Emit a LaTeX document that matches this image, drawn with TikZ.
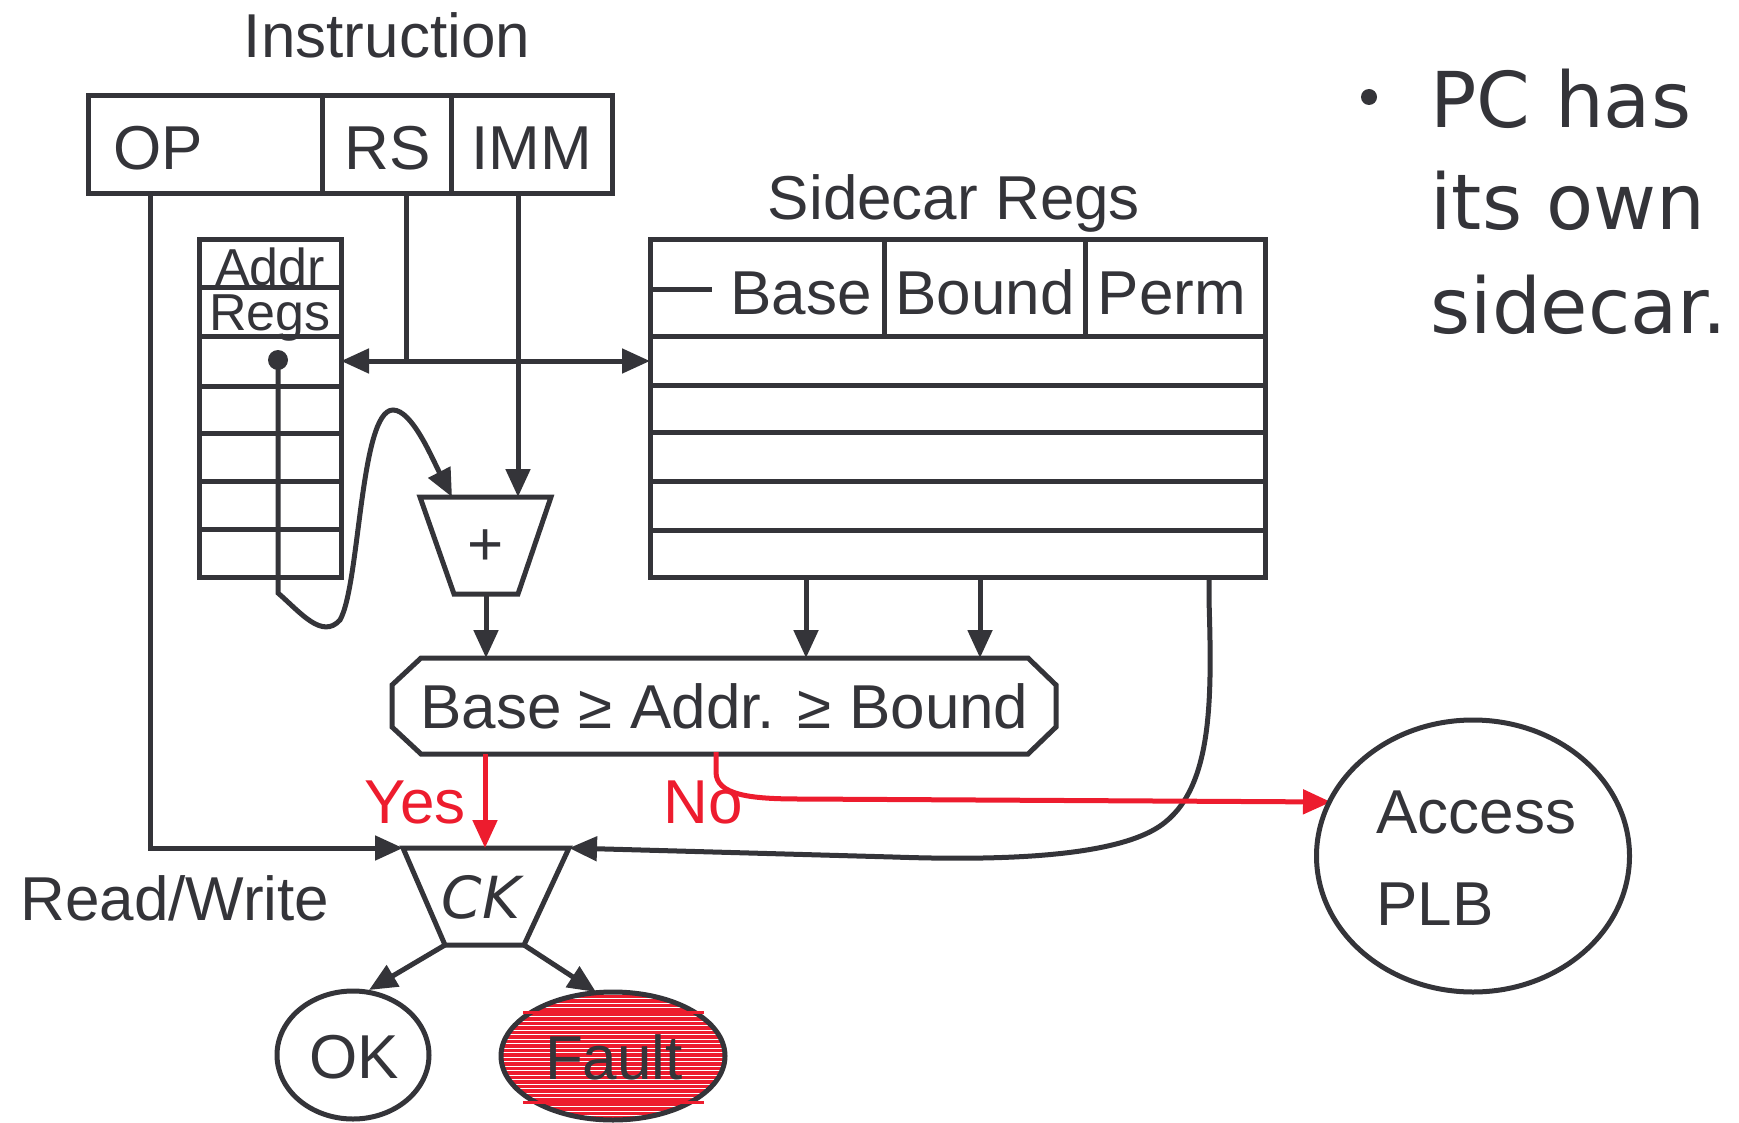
\documentclass[tikz,border=0pt]{standalone}
\usepackage{fontspec}
\setmainfont{Liberation Sans}
\newfontfamily\comicfont{DejaVu Sans}
\usetikzlibrary{arrows.meta,shapes.geometric}
\definecolor{ink}{RGB}{52,52,57}
\definecolor{redc}{RGB}{237,28,46}
\tikzset{
  lbl/.style={font=\fontsize{62}{70}\selectfont, inner sep=0pt, text=ink},
  small/.style={font=\fontsize{52}{60}\selectfont, inner sep=0pt, text=ink},
  comic/.style={font=\comicfont\fontsize{77}{90}\selectfont, inner sep=0pt, text=ink},
  arr/.style={-{Triangle[length=28pt,width=24pt]}},
  bubble/.style={draw=ink, ellipse, inner sep=0pt, line width=5pt},
}
\begin{document}
\begin{tikzpicture}[x=1pt,y=-1pt,line width=5pt,color=ink,line join=miter]
\useasboundingbox (0,0) rectangle (1739,1123);

% ---------------- Instruction
\node[lbl,anchor=base] (instrlbl) at (387,58) {Instruction};
\draw (88,96) rectangle (612,194);
\draw (322,96) -- (322,194);
\draw (451,96) -- (451,194);
\node[lbl,anchor=base west] (op) at (111,170) {OP};
\node[lbl,anchor=base] (rs) at (388,170) {RS};
\node[lbl,anchor=base] (imm) at (532,170) {IMM};
\coordinate (opout) at (150,194);
\coordinate (rsout) at (406,194);
\coordinate (immout) at (518,194);

% ---------------- Addr Regs
\draw (199,240) rectangle (341,577);
\foreach \yy in {287,336,386,433,481,529} \draw (199,\yy) -- (341,\yy);
\node[small,anchor=base] (addr) at (270,285) {Addr};
\node[small,anchor=base] (regs) at (270,330) {Regs};
\coordinate (addrin) at (341,361);

% ---------------- Sidecar Regs
\node[lbl,anchor=base] (sclbl) at (954,220) {Sidecar Regs};
\draw (650,240) rectangle (1265,577);
\draw (650,336) -- (1268,336);
\draw (650,385) -- (1268,385);
\foreach \yy in {432,481,530} \draw (650,\yy) -- (1265,\yy);
\draw (884,240) -- (884,336);
\draw (1085,240) -- (1085,336);
\draw (650,289) -- (712,289);
\node[lbl,anchor=base] (base) at (801,314) {Base};
\node[lbl,anchor=base] (bound) at (985,314) {Bound};
\node[lbl,anchor=base] (perm) at (1172,314) {Perm};
\coordinate (scin) at (650,361);
\coordinate (scout1) at (806,577);
\coordinate (scout2) at (980,577);
\coordinate (scout3) at (1209,577);

% ---------------- RS fan-out
\coordinate (rsj) at (406,361);
\draw (rsout) -- (rsj);
\draw[arr] (rsj) -- (addrin);
\draw[arr] (rsj) -- (scin);

% ---------------- Adder
\coordinate (at1) at (420,497);
\coordinate (at2) at (551,497);
\coordinate (ab2) at (518,594);
\coordinate (ab1) at (454,594);
\draw (at1) -- (at2) -- (ab2) -- (ab1) -- cycle;
\node[lbl] (plus) at (486,548) {+};
\coordinate (addin1) at (452,497);
\coordinate (addin2) at (518,497);
\coordinate (addout) at (486,594);
\draw[arr] (immout) -- (addin2);

% register pointer into adder
\coordinate (dot) at (278,360);
\fill (dot) circle (10pt);
\coordinate (dotlow) at (278,593);
\draw[arr] (dot) -- (dotlow)
  .. controls (300,612) and (322,640) .. (340,620)
  .. controls (360,585) and (360,410) .. (393,410)
  .. controls (412,410) and (432,458) .. (addin1);

% ---------------- Compare box
\draw (421,658) -- (1028,658) -- (1056,685) -- (1056,727) -- (1028,754)
  -- (421,754) -- (392,727) -- (392,685) -- cycle;
\node[lbl,anchor=base] (cmp) at (724.5,728) {Base ≥ Addr. ≥ Bound};
\coordinate (cmpin1) at (486,658);
\coordinate (cmpin2) at (806,658);
\coordinate (cmpin3) at (980,658);
\coordinate (cmpyes) at (485,754);
\coordinate (cmpno) at (716,752);
\draw[arr] (addout) -- (cmpin1);
\draw[arr] (scout1) -- (cmpin2);
\draw[arr] (scout2) -- (cmpin3);

% ---------------- CK
\coordinate (ck1) at (403,848);
\coordinate (ck2) at (569,848);
\coordinate (ck3) at (524,945);
\coordinate (ck4) at (445,945);
\draw (ck1) -- (ck2) -- (ck3) -- (ck4) -- cycle;
\node[font=\comicfont\itshape\fontsize{58}{64}\selectfont,inner sep=0pt,text=ink] (ck) at (481,897) {CK};
\coordinate (ckyes) at (485,848);

% Read/Write
\coordinate (rwc) at (150,848);
\draw[arr] (opout) -- (rwc) -- (ck1);
\node[lbl,anchor=base west] (rw) at (18,920) {Read/Write};

% Perm into CK
\draw[arr] (scout3) -- (1209,600)
  .. controls (1212,700) and (1213,790) .. (1160,826)
  .. controls (1110,860) and (980,860) .. (893,857) -- (ck2);

% Yes / No
\draw[arr,redc] (cmpyes) -- (ckyes);
\node[lbl,anchor=base west,text=redc] (yes) at (362,823) {Yes};
\node[lbl,anchor=base west,text=redc] (no) at (661,823) {No};
\coordinate (plbin) at (1331,802);
\draw[arr,redc] (cmpno) -- (716,772) .. controls (716,795) and (750,799) .. (800,799) -- (plbin);

% ---------------- PLB
\node[bubble,minimum width=313pt,minimum height=272pt] (plb) at (1473,856) {};
\node[lbl,anchor=base west] (acc) at (1374,833) {Access};
\node[lbl,anchor=base west] (plbt) at (1374,925) {PLB};

% ---------------- OK / Fault
\node[bubble,minimum width=152pt,minimum height=128pt] (ok) at (353,1055) {};
\node[lbl] (oktxt) at (354,1057) {OK};
\begin{scope}
  \clip (613,1056) ellipse [x radius=112pt, y radius=64pt];
  \fill[redc] (495,985) rectangle (730,1125);
  \foreach \yy in {994,998.5,...,1120} \draw[white,line width=1pt] (495,\yy) -- (730,\yy);
\end{scope}
\node[bubble,minimum width=224pt,minimum height=128pt] (fault) at (613,1056) {};
\draw[redc,line width=3pt] (523,1012) -- (704,1012);
\draw[redc,line width=3pt] (523,1102) -- (704,1102);
\node[lbl] (faulttxt) at (614,1057) {Fault};
\coordinate (okin) at (369,990);
\coordinate (faultin) at (596,992);
\draw[arr] (ck4) -- (okin);
\draw[arr] (ck3) -- (faultin);

% ---------------- Note
\fill (1369,97) circle (8pt);
\node[comic,anchor=base west] (n1) at (1428,128) {PC has};
\node[comic,anchor=base west] (n2) at (1428,230) {its own};
\node[comic,anchor=base west] (n3) at (1428,333) {sidecar.};
\end{tikzpicture}
\end{document}
